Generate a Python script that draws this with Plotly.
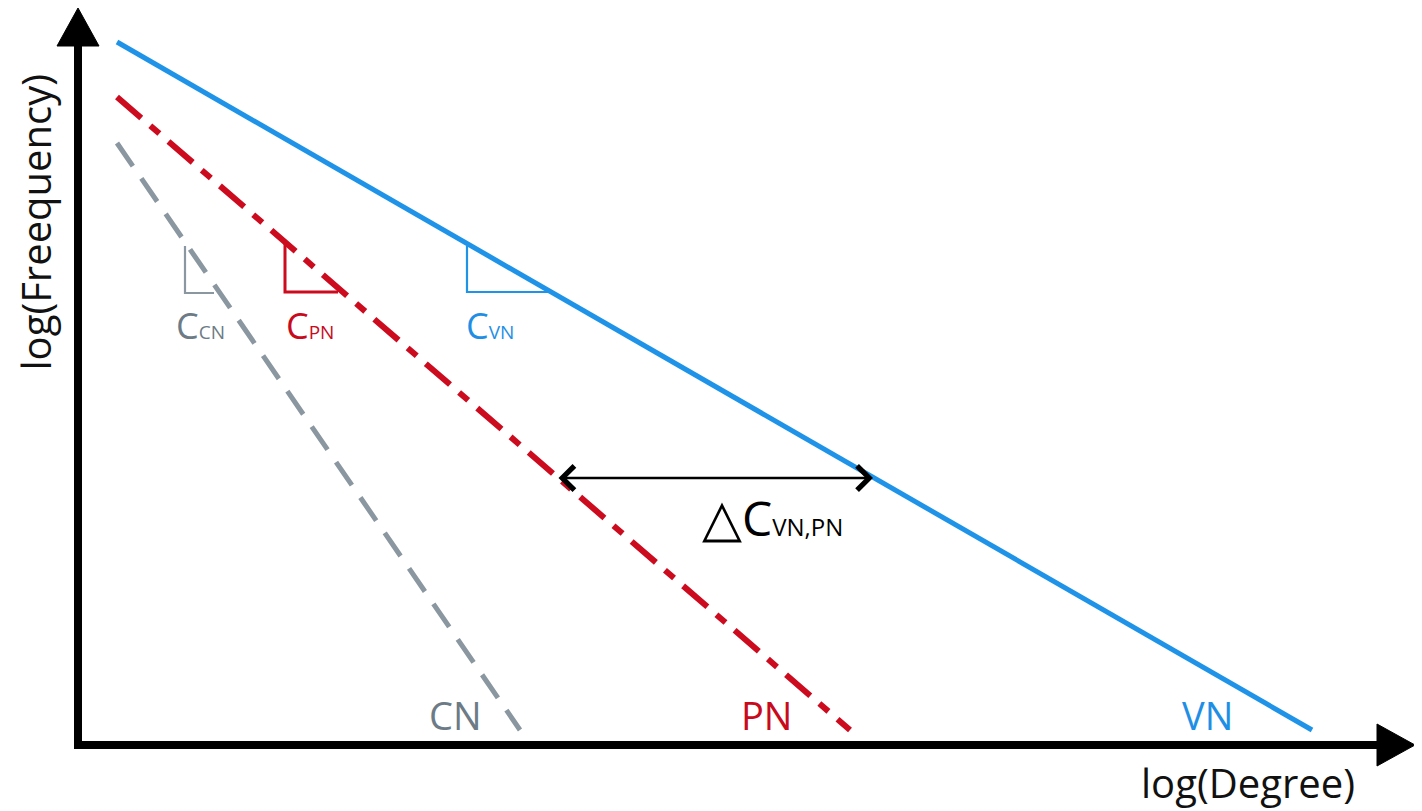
import plotly.graph_objects as go

# networks: name, colour, line style
networks = ["VN", "PN", "CN"]
colors = {"VN": "#1f93e8", "PN": "#cc0b1f", "CN": "#8b97a0"}
text_colors = {"VN": "#1f8fe6", "PN": "#c80a1c", "CN": "#6c7b86"}
dashes = {"VN": "solid", "PN": "32px,12px,12px,12px", "CN": "28px,15px"}
widths = {"VN": 5, "PN": 6, "CN": 5}

# line end points (log degree, log frequency)
line_x = {"VN": [0.39, 12.34], "PN": [0.39, 7.72], "CN": [0.39, 4.42]}
line_y = {"VN": [7.03, 0.15], "PN": [6.48, 0.15], "CN": [6.02, 0.15]}

# slope triangles: vertical leg x, top y, bottom y, horizontal end x
tri_x0 = {"VN": 3.89, "PN": 2.07, "CN": 1.07}
tri_top = {"VN": 4.99, "PN": 5.03, "CN": 4.99}
tri_bot = {"VN": 4.53, "PN": 4.53, "CN": 4.52}
tri_x1 = {"VN": 4.72, "PN": 2.60, "CN": 1.36}

# labels
slope_label_x = {"VN": 4.12, "PN": 2.32, "CN": 1.22}
slope_label_y = 4.20
name_label_x = {"VN": 11.29, "PN": 6.88, "CN": 3.77}
name_label_y = 0.30

# delta arrow between PN and VN
delta_y = 2.67
delta_x = [4.79, 7.95]

FONT = "Open Sans"

fig = go.Figure()

for n in networks:
    fig.add_trace(go.Scatter(
        x=line_x[n], y=line_y[n], mode="lines",
        line=dict(color=colors[n], width=widths[n], dash=dashes[n]),
        hoverinfo="skip", showlegend=False,
    ))
    fig.add_trace(go.Scatter(
        x=[tri_x0[n], tri_x0[n], tri_x1[n]],
        y=[tri_top[n], tri_bot[n], tri_bot[n]],
        mode="lines",
        line=dict(color=colors[n], width=3 if n == "PN" else 2.2),
        hoverinfo="skip", showlegend=False,
    ))
    fig.add_annotation(
        x=slope_label_x[n], y=slope_label_y, showarrow=False,
        text=f"C<span style='font-size:19px'>{n}</span>",
        font=dict(family=FONT, size=36, color=text_colors[n]),
        xanchor="center", yanchor="middle",
    )
    fig.add_annotation(
        x=name_label_x[n], y=name_label_y, showarrow=False,
        text=n, font=dict(family=FONT, size=38, color=text_colors[n]),
        xanchor="center", yanchor="middle",
    )

# delta C arrow
fig.add_annotation(
    x=delta_x[1], y=delta_y, ax=delta_x[0], ay=delta_y,
    xref="x", yref="y", axref="x", ayref="y",
    showarrow=True, arrowhead=4, startarrowhead=4, arrowside="end+start",
    arrowsize=1.8, startarrowsize=1.8, arrowwidth=2.6, arrowcolor="black",
    standoff=0, startstandoff=0, text="",
)
fig.add_annotation(
    x=6.94, y=2.30, showarrow=False,
    text="<span style='font-size:52px'>△</span>C<span style='font-size:24px'>VN,PN</span>",
    font=dict(family=FONT, size=48, color="black"),
    xanchor="center", yanchor="middle",
)

# axes with arrow heads
x_end, y_end = 13.37, 7.37
head_len, head_half = 0.38, 0.21
fig.add_shape(type="line", x0=0, y0=-0.04, x1=0, y1=y_end - head_len,
              line=dict(color="black", width=8))
fig.add_shape(type="line", x0=-0.04, y0=0, x1=x_end - head_len, y1=0,
              line=dict(color="black", width=8))
fig.add_shape(type="path",
              path=f"M {-head_half},{y_end - head_len} L 0,{y_end} L {head_half},{y_end - head_len} Z",
              fillcolor="black", line=dict(color="black", width=1))
fig.add_shape(type="path",
              path=f"M {x_end - head_len},{head_half} L {x_end},0 L {x_end - head_len},{-head_half} Z",
              fillcolor="black", line=dict(color="black", width=1))

fig.add_annotation(x=11.70, y=-0.37, showarrow=False, text="log(Degree)",
                   font=dict(family=FONT, size=40, color="#111"),
                   xanchor="center", yanchor="middle", borderpad=0)
fig.add_annotation(x=-0.435, y=5.23, showarrow=False, text="log(Freequency)",
                   textangle=-90, font=dict(family=FONT, size=40, color="#111"),
                   xanchor="center", yanchor="middle", borderpad=0)

# the page puts the plot 8px in from the top-left corner
fig.update_xaxes(range=[-0.70, 13.44], visible=False, fixedrange=True)
fig.update_yaxes(range=[-0.66, 7.37], visible=False, fixedrange=True)
fig.update_layout(
    width=1414, height=803,
    margin=dict(l=0, r=0, t=0, b=0),
    paper_bgcolor="white", plot_bgcolor="white",
)

fig.write_html("out.html")
